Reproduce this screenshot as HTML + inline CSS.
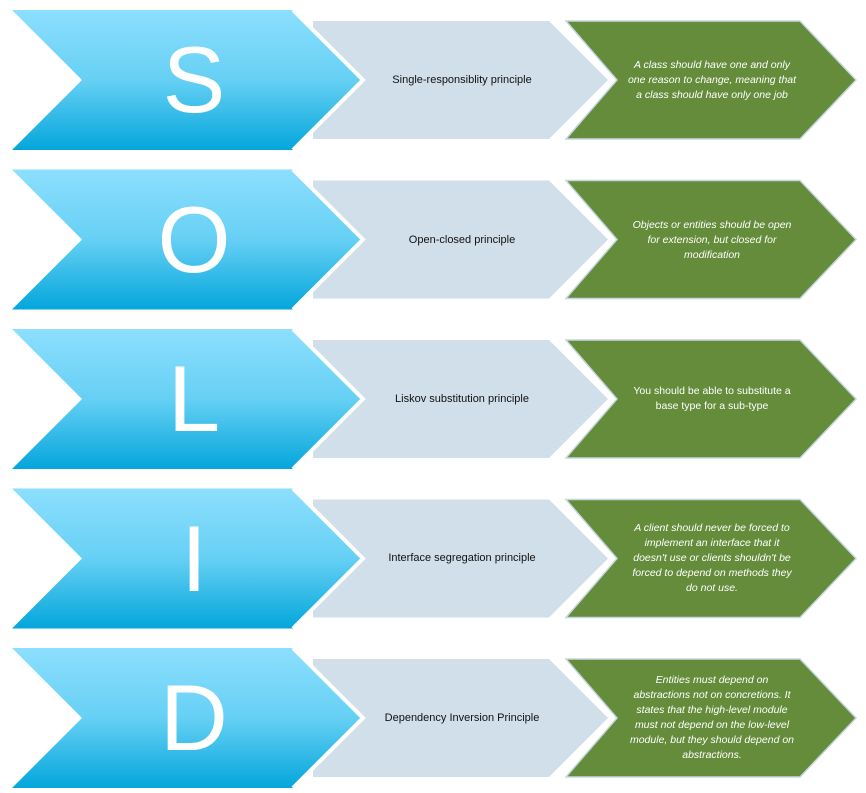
<!DOCTYPE html>
<html><head><meta charset="utf-8"><style>
body{margin:0;background:#fff;width:866px;height:793px;overflow:hidden;font-family:"Liberation Sans",sans-serif}
.t{position:absolute;text-align:center;display:flex;align-items:center;justify-content:center}
.g{font-size:11px;color:#111;width:200px;left:362px;height:20px}
.gr{font-size:10.5px;color:#fff;font-style:italic;width:170px;left:627px;line-height:15px;height:120px}
.L{font-size:94px;color:#fff;width:120px;left:134px;height:140px;font-weight:normal}
</style></head><body>
<svg width="866" height="793" style="position:absolute;left:0;top:0">
<defs><linearGradient id="b" x1="0" y1="0" x2="0" y2="1"><stop offset="0" stop-color="#8ddffe"/><stop offset="0.5" stop-color="#66d0f4"/><stop offset="1" stop-color="#04a6dc"/></linearGradient></defs>
<g id="r">
<polygon points="313,21 549,21 608,80 549,139 313,139" fill="#d0dfe9"/>
<polygon points="566,21 800,21 856,80 800,139 566,139 617,80" fill="#648c3b" stroke="#c5d6df" stroke-width="1.5"/>
<polygon points="12,10 293,10 363,80 293,150 12,150 82,80" fill="url(#b)"/>
<polyline points="293,10 363,80 293,150" fill="none" stroke="#fff" stroke-width="4"/>
</g>
<use href="#r" y="159.5"/><use href="#r" y="319"/><use href="#r" y="478.5"/><use href="#r" y="638"/>
</svg>
<div class="t L" style="top:10px">S</div>
<div class="t L" style="top:170px">O</div>
<div class="t L" style="top:329px">L</div>
<div class="t L" style="top:489px">I</div>
<div class="t L" style="top:648px">D</div>
<div class="t g" style="top:70px">Single-responsiblity principle</div>
<div class="t g" style="top:230px">Open-closed principle</div>
<div class="t g" style="top:389px">Liskov substitution principle</div>
<div class="t g" style="top:548px">Interface segregation principle</div>
<div class="t g" style="top:708px">Dependency Inversion Principle</div>
<div class="t gr" style="top:20px">A class should have one and only one reason to change, meaning that a class should have only one job</div>
<div class="t gr" style="top:180px">Objects or entities should be open for extension, but closed for modification</div>
<div class="t gr" style="top:339px;font-style:normal">You should be able to substitute a base type for a sub-type</div>
<div class="t gr" style="top:498px">A client should never be forced to implement an interface that it doesn't use or clients shouldn't be forced to depend on methods they do not use.</div>
<div class="t gr" style="top:658px">Entities must depend on abstractions not on concretions. It states that the high-level module must not depend on the low-level module, but they should depend on abstractions.</div>
</body></html>
